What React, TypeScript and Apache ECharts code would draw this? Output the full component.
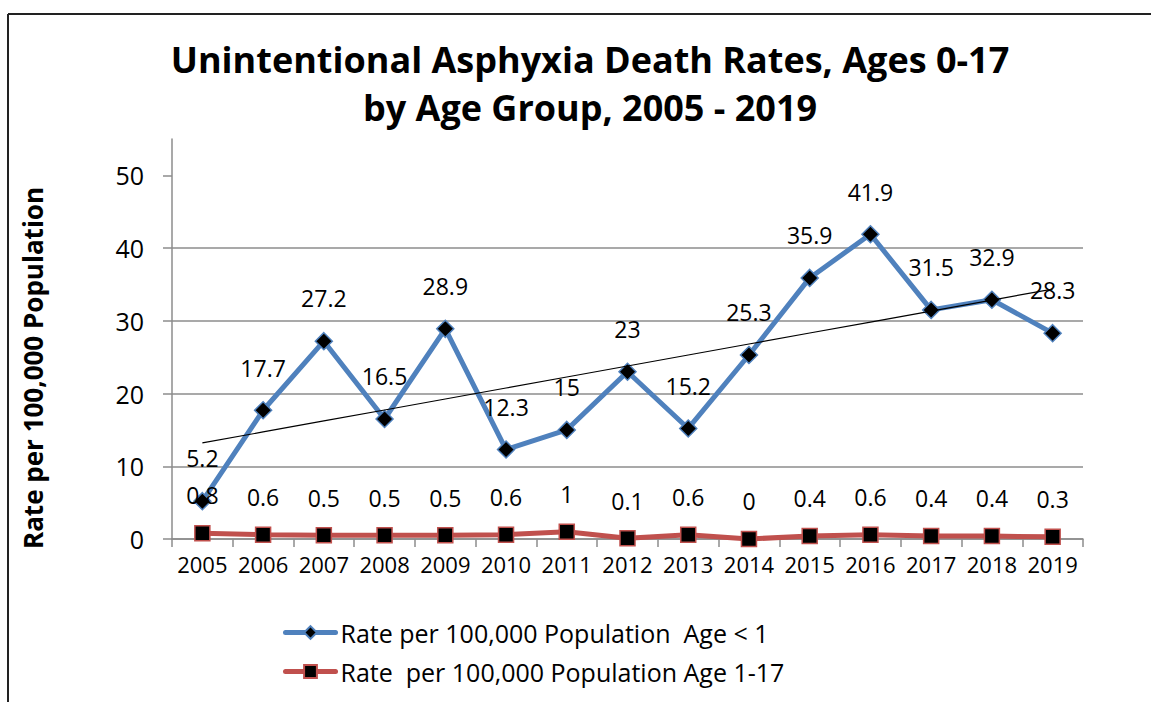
import React, { useEffect, useRef } from "react";
import * as echarts from "echarts";

const years = ["2005","2006","2007","2008","2009","2010","2011","2012","2013","2014","2015","2016","2017","2018","2019"];
const infantRates = [5.2,17.7,27.2,16.5,28.9,12.3,15,23,15.2,25.3,35.9,41.9,31.5,32.9,28.3];
const childRates = [0.8,0.6,0.5,0.5,0.5,0.6,1,0.1,0.6,0,0.4,0.6,0.4,0.4,0.3];
const yTicks = [0,10,20,30,40,50];
const seriesNames = ["Rate per 100,000 Population  Age < 1", "Rate  per 100,000 Population Age 1-17"];
const titleLines = ["Unintentional Asphyxia Death Rates, Ages 0-17", "by Age Group, 2005 - 2019"];
const yAxisTitle = "Rate per 100,000 Population";

// Linear least-squares trend of the infant series (as in the spreadsheet trendline)
function linearTrend(vals: number[]): number[] {
  const n = vals.length;
  const mx = (n - 1) / 2;
  const my = vals.reduce((a, b) => a + b, 0) / n;
  let sxy = 0, sxx = 0;
  vals.forEach((v, i) => { sxy += (i - mx) * (v - my); sxx += (i - mx) * (i - mx); });
  const slope = sxy / sxx;
  return vals.map((_, i) => +(my + slope * (i - mx)).toFixed(3));
}

const FONT = "'Open Sans', 'Noto Sans', sans-serif";

export default function App() {
  const ref = useRef<HTMLDivElement>(null);
  useEffect(() => {
    if (!ref.current) return;
    const chart = echarts.init(ref.current, undefined, { renderer: "svg" });
    const trend = linearTrend(infantRates);
    chart.setOption({
      animation: false,
      backgroundColor: "#ffffff",
      textStyle: { fontFamily: FONT },
      title: {
        text: titleLines.join("\n"),
        left: 585,
        textAlign: "center",
        top: 30,
        textStyle: { fontFamily: FONT, fontWeight: "bold", fontSize: 36, lineHeight: 48, color: "#000" },
      },
      grid: { left: 172, right: 68, top: 139, bottom: 163, containLabel: false },
      legend: {
        orient: "vertical",
        left: 278,
        top: 615,
        itemWidth: 50,
        itemHeight: 16,
        itemGap: 14,
        textStyle: { fontFamily: FONT, fontSize: 25, color: "#000" },
        data: [
          { name: seriesNames[0], lineStyle: { width: 5, cap: "round" } },
          { name: seriesNames[1], lineStyle: { width: 5, cap: "round" } },
        ],
      },
      xAxis: {
        type: "category",
        data: years,
        boundaryGap: true,
        axisLine: { lineStyle: { color: "#8c8c8c", width: 1.5 } },
        axisTick: { show: true, length: 8, lineStyle: { color: "#8c8c8c", width: 1.5 } },
        axisLabel: { color: "#000", fontSize: 22, fontFamily: FONT, margin: 14, interval: 0 },
        splitLine: { show: false },
      },
      yAxis: {
        type: "value",
        min: 0,
        max: 55,
        interval: 10,
        axisLine: { show: true, lineStyle: { color: "#8c8c8c", width: 1.5 } },
        axisTick: { show: true, length: 9, customValues: yTicks, lineStyle: { color: "#8c8c8c", width: 1.5 } },
        axisLabel: { color: "#000", fontSize: 25, fontFamily: FONT, margin: 28, customValues: yTicks },
        splitLine: { show: true, showMaxLine: false, lineStyle: { color: "#8c8c8c", width: 1.5 } },
      },
      graphic: [
        { type: "line", shape: { x1: 8, y1: 14, x2: 1151, y2: 14 }, style: { stroke: "#222", lineWidth: 2 } },
        { type: "line", shape: { x1: 8, y1: 14, x2: 8, y2: 702 }, style: { stroke: "#222", lineWidth: 2 } },
        {
          type: "text",
          x: 33,
          y: 368,
          rotation: Math.PI / 2,
          style: {
            text: yAxisTitle,
            fontFamily: FONT,
            fontWeight: "bold",
            fontSize: 26,
            fill: "#000",
            align: "center",
            verticalAlign: "middle",
          },
        },
      ],
      series: [
        {
          name: seriesNames[0],
          type: "line",
          data: infantRates,
          z: 3,
          lineStyle: { color: "#4F81BD", width: 5 },
          itemStyle: { color: "#000", borderColor: "#4F81BD", borderWidth: 1.5 },
          symbol: "diamond",
          symbolSize: 17,
          label: { show: true, position: "top", distance: 22, color: "#000", fontSize: 23, fontFamily: FONT },
        },
        {
          name: seriesNames[1],
          type: "line",
          data: childRates,
          z: 3,
          lineStyle: { color: "#C0504D", width: 5 },
          itemStyle: { color: "#000", borderColor: "#C0504D", borderWidth: 1.5 },
          symbol: "rect",
          symbolSize: 15,
          label: { show: true, position: "top", distance: 18, color: "#000", fontSize: 23, fontFamily: FONT },
        },
        {
          name: "trend",
          type: "line",
          data: trend,
          z: 4,
          symbol: "none",
          silent: true,
          lineStyle: { color: "#000", width: 1.2 },
        },
      ],
    });
    return () => chart.dispose();
  }, []);
  return <div ref={ref} style={{ position: "fixed", left: 0, top: 0, width: 1151, height: 702 }} />;
}
